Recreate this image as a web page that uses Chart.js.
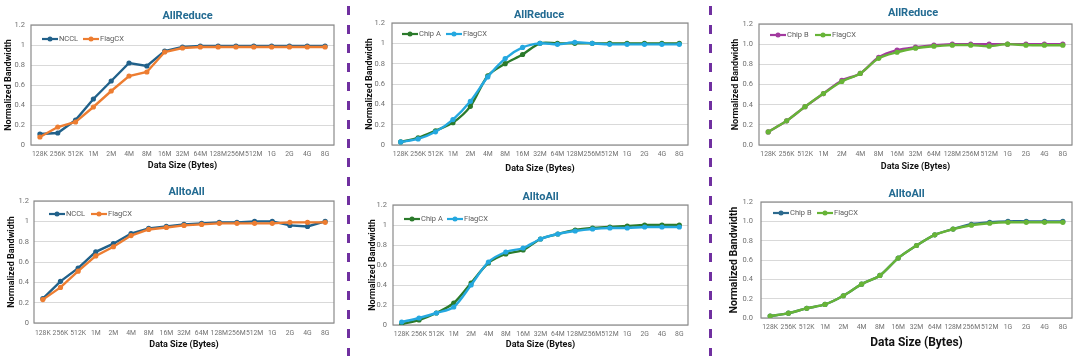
<!DOCTYPE html>
<html><head><meta charset="utf-8">
<script src="https://cdn.jsdelivr.net/npm/chart.js@4/dist/chart.umd.min.js"></script>
<style>
html,body{margin:0;padding:0;background:#fff;width:1080px;height:360px;overflow:hidden;position:relative}
canvas{position:absolute}
.sep{position:absolute;top:6px;width:3px;height:350px;background:repeating-linear-gradient(to bottom,#7030a0 0 9px,transparent 9px 19px)}
</style></head><body>
<div class="sep" style="left:347px"></div>
<div class="sep" style="left:709px"></div>
<canvas id="c1"></canvas><canvas id="c2"></canvas><canvas id="c3"></canvas>
<canvas id="c4"></canvas><canvas id="c5"></canvas><canvas id="c6"></canvas>
<script>
const categories = ['128K','256K','512K','1M','2M','4M','8M','16M','32M','64M','128M','256M','512M','1G','2G','4G','8G'];
const yTicksPlain = ['0','0.2','0.4','0.6','0.8','1','1.2'];
const yTicksFixed = ['0.0','0.2','0.4','0.6','0.8','1.0','1.2'];

const ncclAllReduce    = [0.11,0.12,0.25,0.46,0.64,0.82,0.79,0.94,0.98,0.99,0.99,0.99,0.99,0.99,0.99,0.99,0.99];
const flagcxAllReduce1 = [0.08,0.18,0.23,0.38,0.54,0.69,0.73,0.93,0.97,0.98,0.98,0.98,0.98,0.98,0.98,0.98,0.98];
const ncclAlltoAll     = [0.24,0.41,0.54,0.70,0.78,0.88,0.93,0.95,0.97,0.98,0.99,0.99,1.00,1.00,0.96,0.95,1.00];
const flagcxAlltoAll1  = [0.23,0.35,0.51,0.66,0.75,0.86,0.92,0.94,0.96,0.97,0.98,0.98,0.98,0.98,0.99,0.99,0.99];

const chipAAllReduce   = [0.03,0.07,0.14,0.22,0.38,0.68,0.80,0.89,1.00,1.00,1.00,1.00,1.00,1.00,1.00,1.00,1.00];
const flagcxAllReduce2 = [0.03,0.06,0.13,0.25,0.43,0.67,0.85,0.96,1.00,0.99,1.01,1.00,0.99,0.99,0.99,0.99,0.99];
const chipAAlltoAll    = [0.01,0.05,0.12,0.22,0.42,0.62,0.71,0.75,0.86,0.91,0.95,0.97,0.98,0.99,1.00,1.00,1.00];
const flagcxAlltoAll2  = [0.03,0.07,0.12,0.18,0.40,0.63,0.73,0.77,0.86,0.91,0.94,0.96,0.97,0.97,0.98,0.98,0.98];

const chipBAllReduce   = [0.13,0.24,0.38,0.51,0.64,0.71,0.87,0.94,0.97,0.99,1.00,1.00,1.00,1.00,1.00,1.00,1.00];
const flagcxAllReduce3 = [0.13,0.24,0.38,0.51,0.63,0.71,0.86,0.92,0.96,0.98,0.99,0.99,0.98,1.00,0.99,0.99,0.99];
const chipBAlltoAll    = [0.02,0.05,0.10,0.14,0.23,0.35,0.44,0.62,0.75,0.86,0.92,0.97,0.99,1.00,1.00,1.00,1.00];
const flagcxAlltoAll3  = [0.02,0.05,0.10,0.14,0.23,0.35,0.44,0.62,0.75,0.86,0.92,0.96,0.98,0.99,0.99,0.99,0.99];

const FONT = "Roboto, 'Liberation Sans', sans-serif";
const TICK_FONT = "Roboto, sans-serif";
const TITLE_COLOR = '#236b92';
const TICK_COLOR = '#707070';

const frameBox = {id:'frameBox', beforeDatasetsDraw(chart){
  const a = chart.chartArea, ctx = chart.ctx;
  ctx.save(); ctx.strokeStyle = '#8a8a8a'; ctx.lineWidth = 1.2;
  ctx.strokeRect(a.left, a.top, a.right - a.left, a.bottom - a.top);
  ctx.restore();
}};
const inLegend = {id:'inLegend', afterDraw(chart, args, o){
  const ctx = chart.ctx, a = chart.chartArea;
  const y = a.top + o.dy;
  chart.data.datasets.forEach((ds, i) => {
    const lx = a.left + o.dx + i * o.gap;
    ctx.save();
    ctx.strokeStyle = ds.borderColor; ctx.lineWidth = 2.2;
    ctx.beginPath(); ctx.moveTo(lx, y); ctx.lineTo(lx + 16, y); ctx.stroke();
    ctx.fillStyle = ds.borderColor;
    ctx.beginPath(); ctx.arc(lx + 8, y, 2.5, 0, Math.PI * 2); ctx.fill();
    ctx.fillStyle = '#5a5a5a'; ctx.font = o.size + 'px ' + TICK_FONT;
    ctx.textBaseline = 'middle'; ctx.textAlign = 'left';
    ctx.fillText(ds.label, lx + 17, y);
    ctx.restore();
  });
}};
const titleShift = {id:'titleShift', afterLayout(chart, args, o){
  const tb = chart.titleBlock; if (!tb) return;
  const c = (tb.left + tb.right) / 2, d = o.cx - c;
  tb.left += d; tb.right += d;
}};

function makeChart(id, g, sets, yTicks) {
  const cv = document.getElementById(id);
  const W = g.R - g.x0 + 4, H = 180;
  cv.width = W; cv.height = H;
  cv.style.left = g.x0 + 'px'; cv.style.top = g.y0 + 'px';
  const tLH = g.titleSize * 1.2, kLH = g.tickSize * 1.2, xLH = g.xtSize * 1.2, yLH = g.ytSize * 1.2;
  new Chart(cv, {
    type: 'line',
    data: {
      labels: categories,
      datasets: sets.map((s, i) => ({
        label: s.label, data: s.data,
        borderColor: s.color, backgroundColor: s.color,
        pointBackgroundColor: s.color, pointBorderColor: s.color,
        borderWidth: 2.4, pointRadius: 2.6, pointHoverRadius: 2.6, pointBorderWidth: 0,
        tension: g.tension, order: i === 0 ? 1 : 0, fill: false
      }))
    },
    options: {
      responsive: false, animation: false, devicePixelRatio: 1,
      layout: {padding: {left: 0, right: 4, top: 0, bottom: 0}},
      plugins: {
        legend: {display: false}, tooltip: {enabled: false},
        title: {display: true, text: g.title, color: TITLE_COLOR,
          font: {family: FONT, size: g.titleSize, weight: 'bold'},
          padding: {top: g.tc - g.y0 - tLH / 2, bottom: g.T - g.tc - tLH / 2}},
        inLegend: {dx: g.lg[0], dy: g.lg[1], gap: g.lg[2], size: 7.5},
        titleShift: {cx: g.tcx - g.x0}
      },
      scales: {
        x: {
          type: 'category', offset: true,
          grid: {display: false, drawTicks: false}, border: {display: false},
          ticks: {color: TICK_COLOR, font: {family: TICK_FONT, size: g.tickSize},
            padding: g.tickY - g.B - kLH / 2, maxRotation: 0, minRotation: 0, autoSkip: false},
          title: {display: true, text: 'Data Size (Bytes)', color: '#111',
            font: {family: FONT, size: g.xtSize, weight: 'bold'},
            padding: {top: 0, bottom: g.y0 + H - g.xtY - xLH / 2}},
          afterFit: (s) => { s.height = g.y0 + H - g.B; }
        },
        y: {
          min: 0, max: 1.2,
          ticks: {stepSize: 0.2, color: TICK_COLOR, font: {family: TICK_FONT, size: 7.5},
            padding: g.L - g.tickRight,
            callback: (v) => yTicks[Math.round(v / 0.2)]},
          grid: {color: '#d9d9d9', lineWidth: 1, drawTicks: false}, border: {display: false},
          title: {display: true, text: 'Normalized Bandwidth', color: '#111',
            font: {family: FONT, size: g.ytSize, weight: 'bold'},
            padding: {top: g.ytX - g.x0 - yLH / 2, bottom: 0}},
          afterFit: (s) => { s.width = g.L - g.x0; }
        }
      }
    },
    plugins: [frameBox, inLegend, titleShift]
  });
}

const base = {titleSize: 11, tickSize: 6.8, xtSize: 9, ytSize: 9};
makeChart('c1', Object.assign({}, base, {title: 'AllReduce', x0: 0, y0: 0, L: 31, R: 334, T: 25, B: 145,
  tc: 16, tcx: 187.5, tickY: 154, xtY: 166, ytX: 9, tickRight: 25, lg: [11, 14, 41], tension: 0}),
  [{label: 'NCCL', data: ncclAllReduce, color: '#21618a'}, {label: 'FlagCX', data: flagcxAllReduce1, color: '#ed7d31'}], yTicksPlain);
makeChart('c2', Object.assign({}, base, {title: 'AlltoAll', x0: 0, y0: 180, L: 34, R: 334, T: 201, B: 323,
  tc: 192, tcx: 186.5, tickY: 333, xtY: 345, ytX: 12, tickRight: 29, lg: [15, 13, 42], tension: 0}),
  [{label: 'NCCL', data: ncclAlltoAll, color: '#21618a'}, {label: 'FlagCX', data: flagcxAlltoAll1, color: '#ed7d31'}], yTicksPlain);
makeChart('c3', Object.assign({}, base, {title: 'AllReduce', x0: 352, y0: 0, L: 392, R: 688, T: 23, B: 145,
  tc: 15, tcx: 539, tickY: 154, xtY: 169, ytX: 370, tickRight: 385, lg: [10, 11, 44], tension: 0.3}),
  [{label: 'Chip A', data: chipAAllReduce, color: '#2b7a2b'}, {label: 'FlagCX', data: flagcxAllReduce2, color: '#24a8e0'}], yTicksPlain);
makeChart('c4', Object.assign({}, base, {title: 'AlltoAll', x0: 352, y0: 180, L: 393, R: 688, T: 205, B: 325,
  tc: 197, tcx: 540.5, tickY: 334, xtY: 345, ytX: 373, tickRight: 387, lg: [11, 14, 43], tension: 0.3}),
  [{label: 'Chip A', data: chipAAlltoAll, color: '#2b7a2b'}, {label: 'FlagCX', data: flagcxAlltoAll2, color: '#24a8e0'}], yTicksPlain);
makeChart('c5', Object.assign({}, base, {title: 'AllReduce', x0: 713, y0: 0, L: 759, R: 1072, T: 24, B: 145,
  tc: 13, tcx: 913, tickY: 154, xtY: 167, ytX: 736, tickRight: 753, lg: [11, 11, 45], tension: 0.3}),
  [{label: 'Chip B', data: chipBAllReduce, color: '#a23a9f'}, {label: 'FlagCX', data: flagcxAllReduce3, color: '#67b437'}], yTicksFixed);
makeChart('c6', Object.assign({}, base, {title: 'AlltoAll', x0: 713, y0: 180, L: 761, R: 1072, T: 202, B: 318,
  tc: 194, tcx: 906.5, tickY: 327, xtY: 343, ytX: 734.5, tickRight: 753, lg: [12, 11, 44], tension: 0.3,
  xtSize: 12, ytSize: 10.5}),
  [{label: 'Chip B', data: chipBAlltoAll, color: '#2c6a8e'}, {label: 'FlagCX', data: flagcxAlltoAll3, color: '#67b437'}], yTicksFixed);
</script>
</body></html>
